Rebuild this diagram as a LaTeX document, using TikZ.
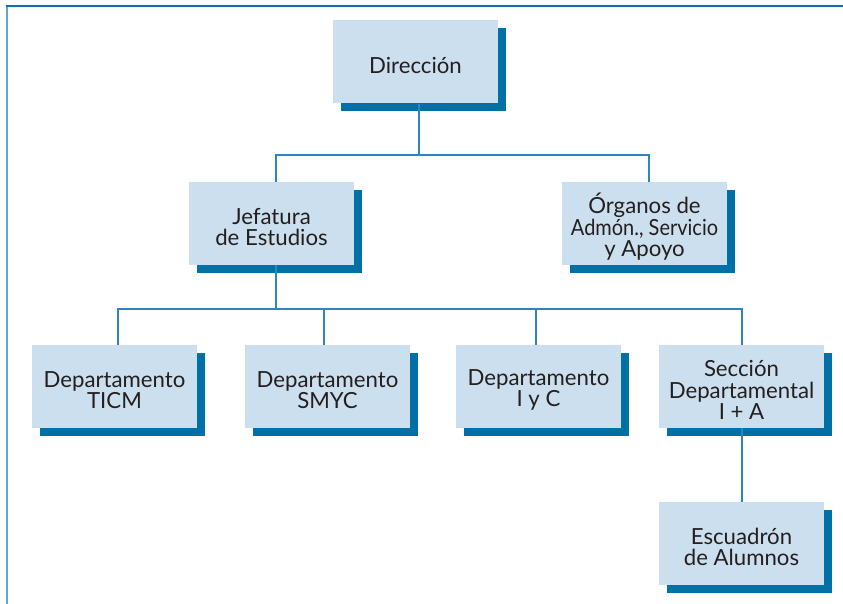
\documentclass[tikz,border=0pt]{standalone}
\usepackage{fontspec}
\setmainfont{Lato}
\usetikzlibrary{shadows}
\definecolor{boxfill}{HTML}{CCDFEE}
\definecolor{shadowc}{HTML}{0070A6}
\definecolor{linec}{HTML}{2C86BB}
\definecolor{framel}{HTML}{5FA5CF}
\definecolor{framet}{HTML}{0A72B0}
\definecolor{txt}{HTML}{231F20}
\begin{document}
\begin{tikzpicture}[x=1pt,y=-1pt,
  orgbox/.style={fill=boxfill, minimum width=165pt, minimum height=83pt, inner sep=0pt,
    drop shadow={shadow xshift=8pt, shadow yshift=-8pt, fill=shadowc, opacity=1}},
  lbl/.style={align=center, text=txt, inner sep=0pt, yshift=-3.5pt,
    font=\fontsize{22.2}{21.5}\selectfont},
  conn/.style={draw=linec, line width=1.4pt}]
\useasboundingbox (0,0) rectangle (843,604);
\draw[framel, line width=1.6pt] (7,604) -- (7,6);
\draw[framet, line width=2pt] (6.2,6) -- (843,6);

\node[orgbox, label={[lbl]center:Dirección}] (dir) at (415.5,62) {};
\node[orgbox, label={[lbl]center:Jefatura\\de Estudios}] (jef) at (271.5,223.5) {};
\node[orgbox, label={[lbl]center:Órganos de\\\scalebox{0.9}[1]{Admón., Servicio}\\y Apoyo}] (org) at (644.5,223.5) {};
\node[orgbox, label={[lbl]center:Departamento\\TICM}] (ticm) at (114.5,386.5) {};
\node[orgbox, label={[lbl]center:Departamento\\SMYC}] (smyc) at (327.5,386.5) {};
\node[orgbox, label={[lbl]center:Departamento\\I y C}] (iyc) at (538.5,386.5) {};
\node[orgbox, label={[lbl]center:Sección\\Departamental\\I + A}] (sec) at (741.5,386.5) {};
\node[orgbox, label={[lbl]center:Escuadrón\\de Alumnos}] (esc) at (741.5,543.5) {};

\coordinate (b1) at (419,155);
\coordinate (b1l) at (276,155);
\coordinate (b1r) at (649,155);
\coordinate (b2) at (276,309);
\coordinate (b2a) at (118,309);
\coordinate (b2b) at (324,309);
\coordinate (b2c) at (536,309);
\coordinate (b2d) at (742,309);

\draw[conn] (b1 |- dir.south) -- (b1);
\draw[conn] (b1l |- jef.north) -- (b1l) -- (b1r) -- (b1r |- org.north);
\draw[conn] (b2 |- jef.south) -- (b2);
\draw[conn] (b2a |- ticm.north) -- (b2a) -- (b2d) -- (b2d |- sec.north);
\draw[conn] (b2b) -- (b2b |- smyc.north);
\draw[conn] (b2c) -- (b2c |- iyc.north);
\draw[conn] (b2d |- sec.south) -- (b2d |- esc.north);
\end{tikzpicture}
\end{document}
